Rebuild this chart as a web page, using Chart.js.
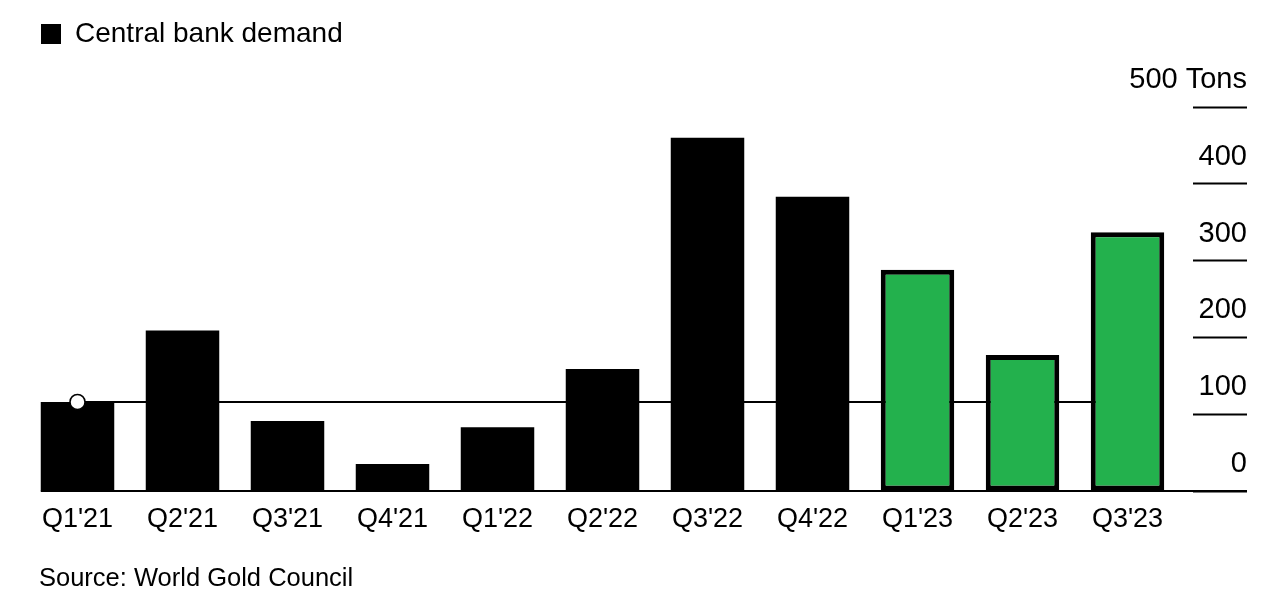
<!DOCTYPE html>
<html>
<head>
<meta charset="utf-8">
<script src="https://cdn.jsdelivr.net/npm/chart.js@4.4.0/dist/chart.umd.min.js"></script>
<style>
  html, body { margin: 0; padding: 0; background: #ffffff; }
  canvas { display: block; }
</style>
</head>
<body>
<canvas id="chart" width="1286" height="602"></canvas>
<script>
// ---- Data ----
const categories = ["Q1'21", "Q2'21", "Q3'21", "Q4'21", "Q1'22", "Q2'22", "Q3'22", "Q4'22", "Q1'23", "Q2'23", "Q3'23"];
const demandTons = [116, 209, 91, 35, 83, 159, 460, 383, 288, 177, 337];
const highlighted = [false, false, false, false, false, false, false, false, true, true, true];
const referenceLevel = 116;
const yTickValues = [0, 100, 200, 300, 400, 500];
const yUnit = 'Tons';
const legendLabel = 'Central bank demand';
const sourceText = 'Source: World Gold Council';

// ---- Styles ----
const FONT = '"Liberation Sans", Arial, Helvetica, sans-serif';
const GREEN = '#23b14d';
Chart.defaults.font.family = FONT;
Chart.defaults.color = '#000000';

const refLineData = categories.map((_, i) => (i === 0 || i === categories.length - 1) ? referenceLevel : null);
const refPointData = categories.map((_, i) => (i === 0 ? referenceLevel : null));

const baselinePlugin = {
  id: 'baseline',
  beforeDatasetsDraw(chart) {
    const meta = chart.getDatasetMeta(1);
    const first = meta.data[0];
    const yScale = chart.scales.y;
    const y0 = yScale.getPixelForValue(0);
    const x0 = first.x - first.width / 2;
    const ctx = chart.ctx;
    ctx.save();
    ctx.strokeStyle = '#000';
    ctx.lineWidth = 2;
    ctx.beginPath();
    ctx.moveTo(x0, y0);
    ctx.lineTo(yScale.right, y0);
    ctx.stroke();
    ctx.restore();
  }
};

const sourcePlugin = {
  id: 'sourceNote',
  afterDraw(chart) {
    const ctx = chart.ctx;
    ctx.save();
    ctx.fillStyle = '#000';
    ctx.font = '25.5px ' + FONT;
    ctx.textBaseline = 'middle';
    ctx.textAlign = 'left';
    ctx.fillText(sourceText, 39, 579);
    ctx.restore();
  }
};

new Chart(document.getElementById('chart'), {
  data: {
    labels: categories,
    datasets: [
      {
        type: 'line',
        label: 'marker',
        data: refPointData,
        showLine: false,
        pointRadius: 7.5,
        pointBackgroundColor: '#ffffff',
        pointBorderColor: '#000000',
        pointBorderWidth: 1.5,
        order: 0
      },
      {
        type: 'bar',
        label: legendLabel,
        data: demandTons,
        backgroundColor: highlighted.map(h => h ? GREEN : '#000000'),
        borderColor: '#000000',
        borderWidth: highlighted.map(h => h ? 5 : 0),
        borderSkipped: false,
        categoryPercentage: 1.0,
        barPercentage: 0.7,
        order: 1
      },
      {
        type: 'line',
        label: 'reference',
        data: refLineData,
        spanGaps: true,
        borderColor: '#000000',
        borderWidth: 2,
        pointRadius: 0,
        order: 2
      }
    ]
  },
  options: {
    responsive: false,
    animation: false,
    layout: { padding: { top: 4, left: 25, right: 39, bottom: 0 } },
    plugins: {
      tooltip: { enabled: false },
      title: { display: false },
      legend: {
        display: true,
        position: 'top',
        align: 'start',
        labels: {
          boxWidth: 20,
          boxHeight: 20,
          padding: 16,
          color: '#000',
          font: { size: 28, family: FONT },
          generateLabels: () => [{
            text: legendLabel,
            fillStyle: '#000000',
            strokeStyle: '#000000',
            lineWidth: 0,
            hidden: false,
            datasetIndex: 1
          }]
        }
      }
    },
    scales: {
      x: {
        type: 'category',
        position: 'bottom',
        offset: true,
        grid: { display: false, drawTicks: false },
        border: { display: false },
        ticks: { color: '#000', font: { size: 27, family: FONT }, padding: 12, maxRotation: 0, autoSkip: false },
        afterFit(s) { s.height = 111; }
      },
      xSpacer: {
        type: 'category',
        axis: 'x',
        position: 'top',
        display: true,
        grid: { display: false, drawTicks: false },
        border: { display: false },
        ticks: { display: false },
        afterFit(s) { s.height = 49; }
      },
      y: {
        type: 'linear',
        position: 'right',
        min: yTickValues[0],
        max: yTickValues[yTickValues.length - 1],
        afterBuildTicks(s) { s.ticks = yTickValues.map(v => ({ value: v })); },
        ticks: {
          mirror: true,
          padding: 67,
          labelOffset: -27,
          color: '#000',
          font: { size: 29, family: FONT },
          callback: (v) => v === yTickValues[yTickValues.length - 1] ? v + ' ' + yUnit : String(v)
        },
        grid: {
          drawOnChartArea: false,
          drawTicks: true,
          tickLength: 67,
          tickColor: '#000',
          tickWidth: 2,
          tickBorderDash: [0, 13, 54, 200],
          color: '#000'
        },
        border: { display: false },
        afterFit(s) { s.width = 67; }
      }
    }
  },
  plugins: [baselinePlugin, sourcePlugin]
});
</script>
</body>
</html>
